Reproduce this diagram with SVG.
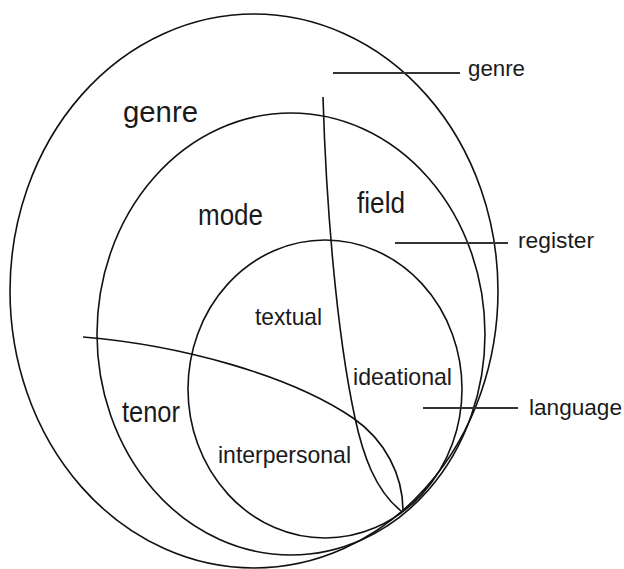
<svg xmlns="http://www.w3.org/2000/svg" width="624" height="569" viewBox="0 0 624 569">
<style>
.c{fill:none;stroke:#111;stroke-width:1.6}
.l{fill:none;stroke:#333;stroke-width:2}
text{font-family:"Liberation Sans",Arial,sans-serif;fill:#1a1a1a}
.big{font-size:30px}
.mid{font-size:24px}
.sm{font-size:22px}
</style>
<rect width="624" height="569" fill="#fff"/>
<g id="genre-circle">
<ellipse class="c" cx="254" cy="291" rx="244" ry="277"/>
<text class="big" x="123" y="122" textLength="75" lengthAdjust="spacingAndGlyphs">genre</text>
</g>
<g id="register-circle">
<ellipse class="c" cx="291" cy="334" rx="194" ry="221"/>
<text class="big" x="198" y="225" textLength="65" lengthAdjust="spacingAndGlyphs">mode</text>
<text class="big" x="357" y="213" textLength="48" lengthAdjust="spacingAndGlyphs">field</text>
<text class="big" x="122" y="422" textLength="58" lengthAdjust="spacingAndGlyphs">tenor</text>
</g>
<g id="language-circle">
<ellipse class="c" cx="325" cy="389" rx="137" ry="149"/>
<text class="mid" x="255" y="325" textLength="67" lengthAdjust="spacingAndGlyphs">textual</text>
<text class="mid" x="353" y="385" textLength="99" lengthAdjust="spacingAndGlyphs">ideational</text>
<text class="mid" x="218" y="463" textLength="133" lengthAdjust="spacingAndGlyphs">interpersonal</text>
</g>
<g id="connectors">
<path class="c" d="M323,97 C326,200 336,330 355,418 C363,455 375,490 401,511"/>
<path class="c" d="M83,337 C180,345 290,375 353,418 C385,440 403,475 403,511"/>
<line class="l" x1="333" y1="73" x2="460" y2="73"/>
<line class="l" x1="395" y1="243" x2="508" y2="243"/>
<line class="l" x1="423" y1="408" x2="518" y2="408"/>
</g>
<g id="label-genre"><text class="sm" x="468" y="76" textLength="57" lengthAdjust="spacingAndGlyphs">genre</text></g>
<g id="label-register"><text class="sm" x="518" y="248" textLength="76" lengthAdjust="spacingAndGlyphs">register</text></g>
<g id="label-language"><text class="sm" x="529" y="415" textLength="93" lengthAdjust="spacingAndGlyphs">language</text></g>
</svg>
